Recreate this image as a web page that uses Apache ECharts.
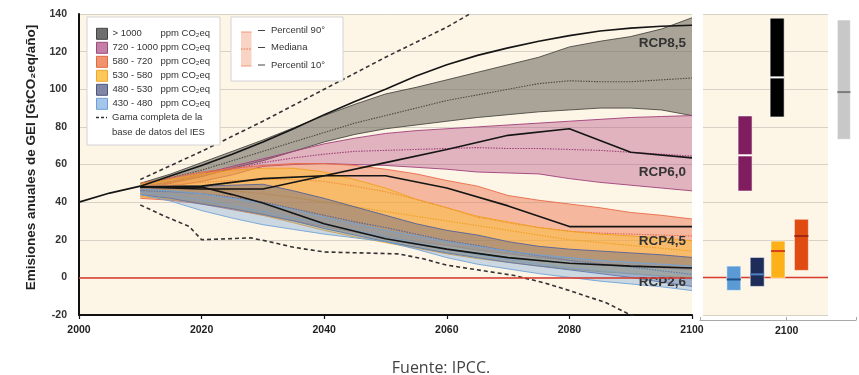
<!DOCTYPE html>
<html><head><meta charset="utf-8">
<script src="https://cdn.jsdelivr.net/npm/echarts@6/dist/echarts.min.js"></script>
<style>html,body{margin:0;padding:0;background:#fff}#c{width:859px;height:375px}</style>
</head><body><div id="c"></div>
<script>
// ---------- DATA ----------
const years = [2010,2015,2020,2025,2030,2035,2040,2045,2050,2055,2060,2065,2070,2075,2080,2085,2090,2095,2100];

const bandNames = ['> 1000','720 - 1000','580 - 720','530 - 580','480 - 530','430 - 480'];
const grayHi = [50,55,61,67,73,79.5,86,92,97.5,101,105,109,113,117,122.5,125.5,128,132,138];
const grayMd = [48.5,53,57,62,67,72,77,82,86,90,94,97,100,103,104.5,104,104,105,106];
const grayLo = [47,50,53.5,58,62,67,72,76,79,81,83,85,86.5,88,89,90,90,89,86];
const pinkHi = [48,51,55,59,63,67,71,74,76.5,78,79,80,81,82,83,84,85,85.5,86];
const pinkMd = [47.5,50.5,54,57.5,61,63.5,65.5,67,67.5,68,68.5,69,68.5,68.5,68,67.5,66.5,65.5,64.5];
const pinkLo = [46,48.5,51,54.5,59,60,60.5,60,59.5,58.5,57.5,56,55.5,55,52.5,50.5,49,47.5,46];
const salmHi = [50,53,56,58,59.5,60.5,60.5,59.5,57.5,55,51.5,48.5,43.5,41,39,37,34.5,33,31];
const salmMd = [47,49,50.5,51.5,52,52,51,48.5,45.5,41.5,37,32,29,26.5,24.5,23.5,23,22.5,22];
const salmLo = [42,41,39,36,33,30,27,24,21.5,19,17,14.5,12.5,10.5,9,7.5,6,5,4];
const yellHi = [49.5,52,55,57,58,58,56,52,47.5,41.5,37,32.5,29.5,26.5,24.5,23,22,21,19.5];
const yellMd = [46,47,47,46,44.5,42.5,40,37.5,35,32.5,30,27.5,25,22.5,20,18.5,17,15.5,14];
const yellLo = [43,41.5,39.5,36.5,33,29,25,21.5,18.5,15.5,12.5,10,8,6,4.5,3,2,0.8,-0.4];
const slatHi = [48.5,48.5,48.5,49,49.5,46,42,37.5,33,28.5,25,22.5,19,16.5,15,14,13,12,10.6];
const slatMd = [46,45.5,44.5,42.5,40,36.5,33,29.5,26.5,23,19.5,17,14,11.5,9,7,5.5,3.5,1.6];
const slatLo = [44,42,39,36.5,33.5,30,26,22.5,19,16,13,10.5,8,6,4,2,0,-2.5,-4.8];
const lbluHi = [47,46,44.5,42,39.5,36,32,28.5,25,22,19,16.5,14,12,10.5,9,8,7,6];
const lbluMd = [45.5,43.5,41,38,35,31.5,28,25,22,18.5,15,12,9.5,7,5,3.5,2,0.5,-1.1];
const lbluLo = [44,40.5,35.5,31.5,28,25.5,23,21,19,15,10.5,7,4.5,2,0,-2,-3.5,-5,-7];

const histYears = [2000,2005,2010];
const histVals = [40,44.8,48.5];

const rcp85Years = years;
const rcp85 = [48.5,54,59.5,65.5,72,79,86.5,93.5,100,107,113,118,122,125.5,128.5,131,132.5,133.5,134];
const rcpYears10 = [2010,2020,2030,2040,2050,2060,2070,2080,2090,2100];
const rcp60 = [48,47,47,54,61,68,75.5,79,66.5,63.5];
const rcp45 = [48,48.5,52.5,54,54,47.5,38,27,27,27];
const rcp26Years = [2010,2020,2025,2030,2040,2050,2060,2070,2080,2090,2100];
const rcp26 = [48,48,44,39.5,28.5,20.5,15,10.5,7.5,6,5];

const iesHiYears = [2010,2015,2020,2025,2030,2035,2040,2045,2050,2055,2060,2064];
const iesHi = [52,59.5,67,75,83,91.5,100,108.5,117,125,133,140.5];
const iesLoYears = [2010,2014,2018,2020,2024,2028,2031,2035,2040,2046,2052,2056,2060,2066,2071,2076,2080,2086,2090,2092];
const iesLo = [38.5,32.5,27,20,20.5,21,19,16,13.5,13,12.5,10,6.5,3.5,1,-3,-7,-13.5,-20,-23];

// 2100 ranges (right panel)
const boxNames = ['430 - 480','720 - 1000','480 - 530','> 1000','530 - 580','580 - 720','IES'];
const boxSlot  = [2093.9, 2095.2, 2096.6, 2098.9, 2099.0, 2101.7, 2106.6];
const boxLow   = [-6.9, 45.9, -4.8, 85.3, -0.4, 3.7, 73.4];
const boxMed   = [-1.1, 64.9, 1.6, 106.3, 14, 22, 98.5];
const boxHigh  = [6, 85.8, 10.6, 137.8, 19.3, 30.9, 136.8];

const yTicks = {min:-20, max:140, interval:20};
const xTicks = {min:2000, max:2100, interval:20};

// ---------- STYLES ----------
const BEIGE = '#fdf5e6';
const FONT = 'Liberation Sans, Arial, sans-serif';
const bandFill = ['rgba(115,110,100,0.6)','rgba(180,80,130,0.4)','rgba(235,110,70,0.45)','rgba(250,190,40,0.45)','rgba(85,95,135,0.4)','rgba(110,160,215,0.35)'];
const bandEdge = ['#4a4a44','#a0407a','#e86a48','#f0a020','#56629a','#6fa3d8'];
const legFill = ['#6f6f6f','#c47fa7','#f0946f','#fdc85a','#7f86a6','#a5c6ea'];
const legBorder = ['#444','#9b4a7c','#e06a40','#eea530','#4e5784','#6a9fd8'];
const boxFill = ['#5b9bd5','#7f1d5e','#1e2c5a','#000000','#fbb117','#e04b12','#c8c8c8'];
const boxMedC = ['#1f4e8c','#ffffff','#5580c0','#ffffff','#d9401e','#a02810','#7d7d7d'];

const bandData = [
  [grayLo,grayMd,grayHi],[pinkLo,pinkMd,pinkHi],[salmLo,salmMd,salmHi],
  [yellLo,yellMd,yellHi],[slatLo,slatMd,slatHi],[lbluLo,lbluMd,lbluHi]
];

function zip(xs, ys){ return xs.map((x,i)=>[x, ys[i]]); }

function bandSeries(k){
  const [lo, md, hi] = bandData[k];
  return {
    type:'custom', name: bandNames[k], xAxisIndex:0, yAxisIndex:0, z:2,
    itemStyle:{color: bandFill[k]},
    encode:{x:0, y:[1,2,3]},
    data: years.map((y,i)=>[y, lo[i], md[i], hi[i]]),
    renderItem: function(params, api){
      if (params.dataIndexInside !== 0) return null;
      const n = params.dataInsideLength;
      const up=[], dn=[], mp=[];
      for (let i=0;i<n;i++){
        const x = api.value(0,i);
        dn.push(api.coord([x, api.value(1,i)]));
        mp.push(api.coord([x, api.value(2,i)]));
        up.push(api.coord([x, api.value(3,i)]));
      }
      return {type:'group', children:[
        {type:'polygon', shape:{points: up.concat(dn.slice().reverse())}, style:{fill: bandFill[k]}},
        {type:'polyline', shape:{points: up}, style:{stroke: bandEdge[k], lineWidth:0.9, fill:null}},
        {type:'polyline', shape:{points: dn}, style:{stroke: bandEdge[k], lineWidth:0.9, fill:null}},
        {type:'polyline', shape:{points: mp}, style:{stroke: bandEdge[k], lineWidth:1.1, lineDash:[1.5,1.2], fill:null}}
      ]};
    }
  };
}

const labelFont = {fontFamily:FONT, fontWeight:'bold', fontSize:13.5, color:'#333'};
function rcpSeries(name, xs, vs, dy){
  return {
    type:'line', name, xAxisIndex:0, yAxisIndex:0, z:4, data: zip(xs, vs),
    symbol:'none', silent:true, lineStyle:{color:'#151515', width:1.6},
    endLabel:{show:true, formatter: name, distance:0, align:'right', verticalAlign:'middle', offset:[-6, dy], ...labelFont}
  };
}

const series = [];
for (let k=0;k<6;k++) series.push(bandSeries(k));
series.push(rcpSeries('RCP8,5', rcp85Years, rcp85, 18));
series.push(rcpSeries('RCP6,0', rcpYears10, rcp60, 14));
series.push(rcpSeries('RCP4,5', rcpYears10, rcp45, 14.5));
series.push(rcpSeries('RCP2,6', rcp26Years, rcp26, 14));
series.push({type:'line', name:'hist', data: zip(histYears, histVals), symbol:'none', silent:true, z:4,
  lineStyle:{color:'#151515', width:1.6},
  markLine:{symbol:'none', silent:true, label:{show:false}, data:[{yAxis:0}], lineStyle:{color:'#d83a2e', width:1.5, type:'solid'}}});
series.push({type:'line', name:'iesHi', data: zip(iesHiYears, iesHi), symbol:'none', silent:true, z:4,
  lineStyle:{color:'#333', width:1.6, type:[4,3]}});
series.push({type:'line', name:'iesLo', data: zip(iesLoYears, iesLo), symbol:'none', silent:true, z:4,
  lineStyle:{color:'#333', width:1.6, type:[4,3]}});
// right panel zero line
series.push({type:'line', name:'zero2', xAxisIndex:1, yAxisIndex:1, data:[[0,0],[1,0]], symbol:'none', silent:true,
  lineStyle:{color:'#d83a2e', width:1.5}});
// right panel boxes
series.push({
  type:'custom', name:'boxes', xAxisIndex:2, yAxisIndex:2, z:5, silent:true,
  encode:{x:0, y:[1,2,3]},
  data: boxSlot.map((s,i)=>[s, boxLow[i], boxMed[i], boxHigh[i]]),
  renderItem: function(params, api){
    const i = params.dataIndex;
    const x = api.value(0);
    const pH = api.coord([x, api.value(3)]);
    const pL = api.coord([x, api.value(1)]);
    const pM = api.coord([x, api.value(2)]);
    const w = i === 6 ? 13 : 14;
    return {type:'group', children:[
      {type:'rect', shape:{x:pH[0]-w/2, y:pH[1], width:w, height:pL[1]-pH[1]},
        style:{fill: boxFill[i], stroke:'rgba(255,255,255,0.55)', lineWidth:1}},
      {type:'line', shape:{x1:pM[0]-w/2, y1:pM[1], x2:pM[0]+w/2, y2:pM[1]},
        style:{stroke: boxMedC[i], lineWidth:2}}
    ]};
  }
});

const txt = {fontFamily:FONT, fontSize:9.5, fill:'#333'};

const option = {
  animation:false,
  backgroundColor:'#ffffff',
  grid:[
    {left:79, right:167, top:14, bottom:60, show:true, backgroundColor:BEIGE, borderWidth:0},
    {left:703, right:31, top:14, bottom:60, show:true, backgroundColor:BEIGE, borderWidth:0},
    {left:700, right:0, top:14, bottom:60, show:false}
  ],
  xAxis:[
    {type:'value', gridIndex:0, ...xTicks,
      axisLine:{show:true, onZero:false, lineStyle:{color:'#111', width:2}},
      axisTick:{show:true, length:4, lineStyle:{color:'#111', width:1.2}},
      splitLine:{show:false},
      axisLabel:{formatter: v => String(v), fontFamily:FONT, fontWeight:'bold', fontSize:10.5, color:'#222', margin:10}},
    {type:'value', gridIndex:1, min:0, max:1, show:false},
    {type:'value', gridIndex:2, min:2090, max:2108, interval:10, offset:5,
      axisLine:{show:true, onZero:false, lineStyle:{color:'#a8a8a8', width:1.2}},
      axisTick:{show:true, inside:true, length:3, lineStyle:{color:'#a8a8a8'}},
      splitLine:{show:false},
      axisLabel:{formatter: v => (v === 2100 ? '2100' : ''), fontFamily:FONT, fontWeight:'bold', fontSize:10.5, color:'#222', margin:6}}
  ],
  yAxis:[
    {type:'value', gridIndex:0, ...yTicks,
      name:'Emisiones anuales de GEI [GtCO₂eq/año]', nameLocation:'middle', nameGap:41,
      nameTextStyle:{fontFamily:FONT, fontWeight:'bold', fontSize:13.5, color:'#222', padding:[0,0,0,14]},
      axisLine:{show:true, onZero:false, lineStyle:{color:'#111', width:2}},
      axisTick:{show:false},
      splitLine:{show:true, lineStyle:{color:'#d6d2c8', width:1}},
      axisLabel:{fontFamily:FONT, fontWeight:'bold', fontSize:10.5, color:'#333', margin:12}},
    {type:'value', gridIndex:1, ...yTicks,
      axisLine:{show:false}, axisTick:{show:false}, axisLabel:{show:false},
      splitLine:{show:true, lineStyle:{color:'#d6d2c8', width:1}}},
    {type:'value', gridIndex:2, ...yTicks, show:false}
  ],
  legend:{
    left:96, top:27.8, orient:'vertical', padding:0, itemWidth:11, itemHeight:11, itemGap:2, z:10,
    icon:'rect', selectedMode:false,
    data: bandNames.map((n,i)=>({name:n, itemStyle:{color:legFill[i], borderColor:legBorder[i], borderWidth:1}})),
    formatter: n => '{a|'+n+'}{b|ppm CO₂eq}',
    textStyle:{fontFamily:FONT, fontSize:9.5, color:'#333', lineHeight:11,
      rich:{a:{width:48, fontSize:9.5, lineHeight:11, color:'#333', fontFamily:FONT},
            b:{fontSize:9.5, lineHeight:11, color:'#333', fontFamily:FONT}}}
  },
  graphic:[
    {type:'rect', z:8, shape:{x:87, y:17, width:133, height:128}, style:{fill:'#fff', stroke:'#d4d4d4', lineWidth:1}},
    {type:'line', z:11, shape:{x1:96, y1:117.5, x2:107, y2:117.5}, style:{stroke:'#333', lineWidth:1.6, lineDash:[3,2]}},
    {type:'text', z:11, x:112, y:117.5, style:{text:'Gama completa de la', ...txt, verticalAlign:'middle'}},
    {type:'text', z:11, x:112, y:132.5, style:{text:'base de datos del IES', ...txt, verticalAlign:'middle'}},
    {type:'rect', z:8, shape:{x:231, y:17, width:112, height:64}, style:{fill:'#fff', stroke:'#d4d4d4', lineWidth:1}},
    {type:'rect', z:11, shape:{x:241, y:32, width:10.5, height:34}, style:{fill:'#f9d3c4'}},
    {type:'line', z:12, shape:{x1:241, y1:32, x2:251.5, y2:32}, style:{stroke:'#ef9a7c', lineWidth:1}},
    {type:'line', z:12, shape:{x1:241, y1:66, x2:251.5, y2:66}, style:{stroke:'#ef9a7c', lineWidth:1}},
    {type:'line', z:12, shape:{x1:241, y1:49, x2:251.5, y2:49}, style:{stroke:'#e8704a', lineWidth:1, lineDash:[1.5,1.2]}},
    {type:'line', z:12, shape:{x1:258, y1:30.5, x2:265, y2:30.5}, style:{stroke:'#444', lineWidth:1}},
    {type:'line', z:12, shape:{x1:258, y1:47.5, x2:265, y2:47.5}, style:{stroke:'#444', lineWidth:1}},
    {type:'line', z:12, shape:{x1:258, y1:65, x2:265, y2:65}, style:{stroke:'#444', lineWidth:1}},
    {type:'text', z:12, x:271, y:30.5, style:{text:'Percentil 90°', ...txt, verticalAlign:'middle'}},
    {type:'text', z:12, x:271, y:47.5, style:{text:'Mediana', ...txt, verticalAlign:'middle'}},
    {type:'text', z:12, x:271, y:65, style:{text:'Percentil 10°', ...txt, verticalAlign:'middle'}},
    {type:'text', z:12, x:441, y:368, style:{text:'Fuente: IPCC.', fontFamily:'Open Sans, sans-serif', fontSize:16, fill:'#444', align:'center', verticalAlign:'middle'}}
  ],
  series
};

const chart = echarts.init(document.getElementById('c'));
chart.setOption(option);
</script>
</body></html>
